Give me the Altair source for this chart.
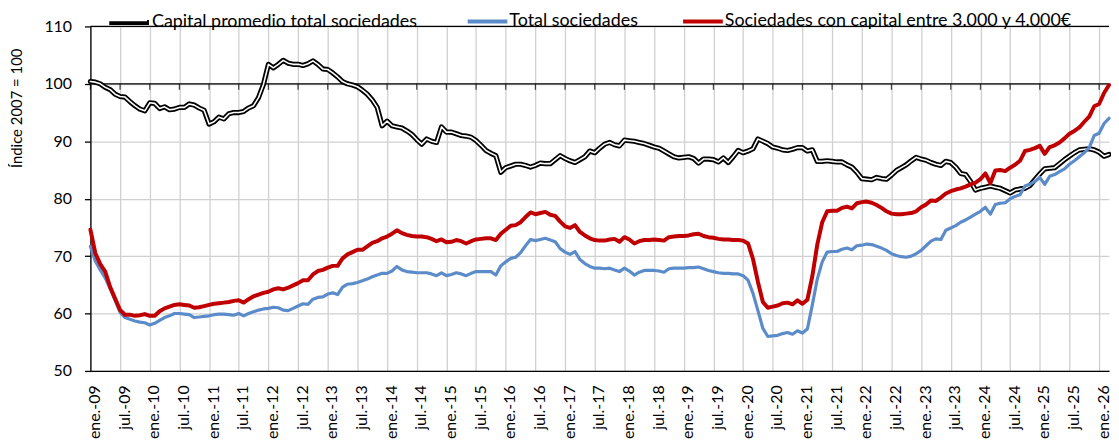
import json
import altair as alt
import pandas as pd

# ---------------- data (monthly, ene-2009 .. mar-2026) ----------------
capital_promedio = [
    100.4, 100.3, 100.0, 99.4, 99.0, 98.2, 97.8, 97.7, 96.9, 96.2, 95.6, 95.3,
    96.7, 96.6, 95.7, 96.0, 95.5, 95.6, 95.9, 95.9, 96.5, 96.3, 95.8, 95.4,
    93.0, 93.4, 94.2, 93.9, 94.8, 95.0, 95.0, 95.2, 95.8, 96.2, 97.6, 99.9,
    103.4, 102.8, 103.4, 104.1, 103.6, 103.4, 103.4, 103.2, 103.5, 104.0, 103.4, 102.6,
    102.5, 101.9, 101.2, 100.4, 100.0, 99.8, 99.5, 98.9, 98.2, 97.2, 95.9, 92.7,
    93.5, 92.7, 92.5, 92.3, 91.8, 91.2, 90.3, 89.5, 90.4, 90.0, 89.8, 92.5,
    91.6, 91.6, 91.3, 91.0, 90.9, 90.7, 90.1, 89.3, 88.4, 87.9, 87.5, 84.6,
    85.4, 85.7, 86.0, 86.0, 85.8, 85.5, 85.8, 86.2, 86.1, 86.1, 86.8, 87.5,
    87.0, 86.6, 86.3, 86.8, 87.3, 88.3, 88.0, 88.8, 89.5, 89.8, 89.4, 89.2,
    90.2, 90.1, 90.0, 89.8, 89.6, 89.3, 89.0, 88.8, 88.3, 87.8, 87.3, 87.1,
    87.2, 87.3, 87.0, 86.2, 86.9, 86.9, 86.8, 86.4, 87.1, 86.3, 87.3, 88.4,
    88.0, 88.3, 88.7, 90.4, 90.0, 89.6, 89.0, 88.8, 88.5, 88.4, 88.6, 88.9,
    88.9, 88.3, 88.5, 86.5, 86.5, 86.6, 86.5, 86.4, 86.4, 85.9, 85.5, 84.6,
    83.5, 83.4, 83.3, 83.7, 83.5, 83.4, 84.1, 84.9, 85.4, 85.9, 86.6, 87.2,
    86.9, 86.7, 86.3, 86.0, 85.8, 86.5, 86.3, 85.5, 84.4, 84.2, 83.0, 81.5,
    81.8, 82.0, 82.2, 82.0, 81.8, 81.4, 81.0, 81.5, 81.7, 81.8, 82.3, 83.3,
    84.3, 85.2, 85.3, 85.4, 86.1, 86.8, 87.4, 88.0, 88.5, 88.6, 88.7, 88.5,
    88.1, 87.4, 87.7,
]

total_sociedades = [
    71.7, 69.1, 67.6, 66.2, 64.3, 62.3, 60.2, 59.3, 59.0, 58.7, 58.5, 58.4,
    58.0, 58.3, 58.8, 59.3, 59.6, 60.0, 60.0, 59.9, 59.8, 59.3, 59.4, 59.5,
    59.6, 59.8, 59.9, 59.9, 59.8, 59.7, 60.0, 59.6, 60.0, 60.3, 60.6, 60.8,
    60.9, 61.1, 61.0, 60.6, 60.5, 60.9, 61.3, 61.7, 61.6, 62.5, 62.8, 62.9,
    63.4, 63.6, 63.3, 64.6, 65.1, 65.2, 65.4, 65.7, 66.0, 66.4, 66.7, 67.0,
    67.0, 67.4, 68.2, 67.6, 67.3, 67.2, 67.1, 67.1, 67.1, 66.9, 66.6, 67.1,
    66.6, 66.8, 67.1, 66.9, 66.6, 67.0, 67.3, 67.3, 67.3, 67.3, 66.7, 68.3,
    69.0, 69.6, 69.8, 70.6, 71.8, 72.9, 72.7, 72.9, 73.1, 72.8, 72.5, 71.3,
    70.7, 70.3, 70.8, 69.4, 68.7, 68.2, 67.9, 67.9, 67.8, 67.9, 67.6, 67.3,
    67.9, 67.4, 66.7, 67.2, 67.5, 67.5, 67.5, 67.4, 67.2, 67.8, 67.9, 67.9,
    67.9, 68.0, 68.0, 68.1, 67.8, 67.5, 67.3, 67.1, 67.0, 67.0, 66.9, 66.9,
    66.6, 65.8, 63.5, 60.5, 57.4, 56.0, 56.1, 56.2, 56.5, 56.7, 56.4, 57.0,
    56.6, 57.3, 61.5, 66.0, 69.0, 70.7, 70.8, 70.8, 71.2, 71.4, 71.1, 71.8,
    71.9, 72.1, 72.0, 71.7, 71.4, 71.0, 70.4, 70.1, 69.9, 69.8, 70.0, 70.4,
    71.0, 71.8, 72.6, 73.0, 72.9, 74.5, 74.9, 75.3, 75.9, 76.3, 76.8, 77.3,
    77.8, 78.5, 77.3, 79.0, 79.2, 79.3, 80.0, 80.4, 80.7, 82.2, 82.5, 83.0,
    83.7, 82.5, 83.9, 84.2, 84.7, 85.2, 86.0, 86.6, 87.3, 88.0, 88.9, 91.0,
    91.4, 93.1, 94.0,
]

sociedades_3000_4000 = [
    74.6, 70.5, 68.6, 67.3, 64.6, 62.6, 60.6, 59.8, 59.8, 59.6, 59.7, 59.9,
    59.6, 59.6, 60.4, 60.9, 61.2, 61.5, 61.6, 61.5, 61.4, 61.0, 61.1, 61.3,
    61.5, 61.7, 61.8, 61.9, 62.0, 62.2, 62.3, 61.9, 62.5, 63.0, 63.3, 63.6,
    63.8, 64.2, 64.4, 64.2, 64.5, 64.9, 65.3, 65.8, 65.8, 66.8, 67.4, 67.6,
    68.0, 68.3, 68.3, 69.6, 70.3, 70.7, 71.1, 71.1, 71.7, 72.3, 72.6, 73.1,
    73.4, 73.9, 74.5, 74.0, 73.7, 73.5, 73.4, 73.4, 73.3, 73.0, 72.6, 72.9,
    72.4, 72.5, 72.8, 72.6, 72.2, 72.6, 72.9, 73.0, 73.1, 73.1, 72.8, 73.9,
    74.6, 75.3, 75.4, 75.9, 76.8, 77.6, 77.3, 77.5, 77.7, 77.2, 77.0, 76.0,
    75.2, 74.9, 75.4, 74.2, 73.6, 73.1, 72.8, 72.7, 72.7, 72.9, 73.0, 72.5,
    73.3, 72.9, 72.2, 72.6, 72.8, 72.8, 72.9, 72.8, 72.7, 73.3, 73.4, 73.5,
    73.5, 73.6, 73.8, 73.9, 73.5, 73.3, 73.2, 73.0, 72.9, 72.9, 72.8, 72.8,
    72.7, 72.2, 69.5, 65.5, 62.0, 61.0, 61.2, 61.4, 61.8, 61.9, 61.6, 62.3,
    61.7, 62.4, 66.5, 72.0, 75.9, 77.8, 77.9, 77.9, 78.4, 78.6, 78.3, 79.2,
    79.4, 79.5, 79.3, 78.9, 78.4, 77.8, 77.4, 77.3, 77.3, 77.4, 77.5, 77.8,
    78.5, 79.0, 79.7, 79.6, 80.2, 80.9, 81.3, 81.6, 81.8, 82.1, 82.5, 82.8,
    83.4, 84.4, 82.7, 84.9, 85.0, 84.8, 85.4, 85.9, 86.6, 88.3, 88.5, 88.8,
    89.2, 87.8, 89.0, 89.3, 89.8, 90.5, 91.3, 91.8, 92.4, 93.4, 94.3, 96.1,
    96.5, 98.4, 99.8,
]

series_names = [
    "Capital promedio total sociedades",
    "Total sociedades",
    "Sociedades con capital entre 3.000 y 4.000€",
]
series_colors = ["black", "#5b8bc9", "#c00000"]

# tick labels every six months (ene./jul.)
tick_labels = [f"{m}.-{y:02d}" for y in range(9, 27) for m in ("ene", "jul")][:35]
tick_months = [6 * k for k in range(len(tick_labels))]
y_ticks = [50, 60, 70, 80, 90, 100, 110]

n = len(capital_promedio)
df = pd.DataFrame({
    "m": list(range(n)) * 3,
    "v": capital_promedio + total_sociedades + sociedades_3000_4000,
    "s": [series_names[0]] * n + [series_names[1]] * n + [series_names[2]] * n,
})

FONT = "Lato"
GRID = "#d0d0d0"
LEG_Y = -27
LEG_X = [16, 378, 595]

label_expr = json.dumps(tick_labels) + "[round(datum.value / 6)]"

x_enc = alt.X(
    "m:Q",
    scale=alt.Scale(domain=[0, n - 1], nice=False, zero=False),
    axis=alt.Axis(
        values=tick_months, labelExpr=label_expr, labelAngle=270,
        labelAlign="right", labelBaseline="middle", labelPadding=14, labelOffset=4,
        labelFont=FONT, labelFontSize=16, labelColor="black", labelOverlap=False,
        labelFlush=False, ticks=False, grid=True, gridColor=GRID, gridWidth=1.3,
        domainColor="black", domainWidth=1.3, title=None,
    ),
)
y_enc = alt.Y(
    "v:Q",
    scale=alt.Scale(domain=[50, 110], nice=False, zero=False),
    axis=alt.Axis(
        values=y_ticks, labelFont=FONT, labelFontSize=16, labelColor="black",
        labelPadding=13, tickColor="black", tickSize=6, tickWidth=1.3,
        grid=True, gridColor=GRID, gridWidth=1.3, labelFlush=False,
        domainColor="black", domainWidth=1.3,
        title="Índice 2007 = 100", titleFont=FONT, titleFontSize=15,
        titleFontWeight="normal", titleColor="black", titleAngle=270,
        titleAlign="center", titleBaseline="alphabetic", titleX=-69, titleY=82,
    ),
)


def legend_kw(legend_x, stroke_w, z):
    return dict(
        orient="none", legendX=legend_x, legendY=LEG_Y, direction="horizontal",
        title=None, symbolType="stroke", symbolSize=1600, symbolStrokeWidth=stroke_w,
        labelFont=FONT, labelFontSize=18, labelColor="black", labelOffset=0,
        labelLimit=600, padding=0, zindex=z,
    )


def series_color(i, legend_x, stroke_w):
    return alt.Color(
        "s:N",
        scale=alt.Scale(domain=[series_names[i]], range=[series_colors[i]]),
        legend=alt.Legend(**legend_kw(legend_x, stroke_w, 1)),
    )


base = alt.Chart(df)

rules = alt.Chart(pd.DataFrame({"v": [100, 110]})).mark_rule(
    color="black", strokeWidth=1.3
).encode(y=y_enc)

ticks100 = alt.Chart(pd.DataFrame({"m": tick_months, "v": [100] * len(tick_months)})).mark_tick(
    orient="vertical", color="black", size=6, thickness=1.3, yOffset=3
).encode(x=x_enc, y=y_enc)

black_outer = base.transform_filter(alt.datum.s == series_names[0]).mark_line(
    strokeWidth=5.2, strokeJoin="round", strokeCap="round"
).encode(x=x_enc, y=y_enc, color=series_color(0, LEG_X[0], 5.2))

# white core of the double black line (and of its legend symbol)
core_kw = legend_kw(LEG_X[0], 1.6, 2)
core_kw["labelExpr"] = "''"
black_inner = base.transform_filter(alt.datum.s == series_names[0]).transform_calculate(
    core="'core'"
).mark_line(
    strokeWidth=1.6, strokeJoin="round", strokeCap="round"
).encode(
    x=x_enc, y=y_enc,
    color=alt.Color("core:N", scale=alt.Scale(domain=["core"], range=["white"]),
                    legend=alt.Legend(**core_kw)),
)

blue_line = base.transform_filter(alt.datum.s == series_names[1]).mark_line(
    strokeWidth=3.2, strokeJoin="round", strokeCap="round"
).encode(x=x_enc, y=y_enc, color=series_color(1, LEG_X[1], 4.0))

red_line = base.transform_filter(alt.datum.s == series_names[2]).mark_line(
    strokeWidth=4.0, strokeJoin="round", strokeCap="round"
).encode(x=x_enc, y=y_enc, color=series_color(2, LEG_X[2], 4.0))

chart = alt.layer(
    rules, ticks100, black_outer, black_inner, blue_line, red_line
).resolve_scale(color="independent").resolve_legend(color="independent").properties(
    width=1026, height=347,
    autosize=alt.AutoSizeParams(type="none"),
    padding={"left": 83, "top": 17, "right": 2, "bottom": 70},
    background="white",
).configure_view(stroke=None).configure_axis(labelOverlap=False)

chart.save("out.html", embed_options={"renderer": "svg", "actions": False})
